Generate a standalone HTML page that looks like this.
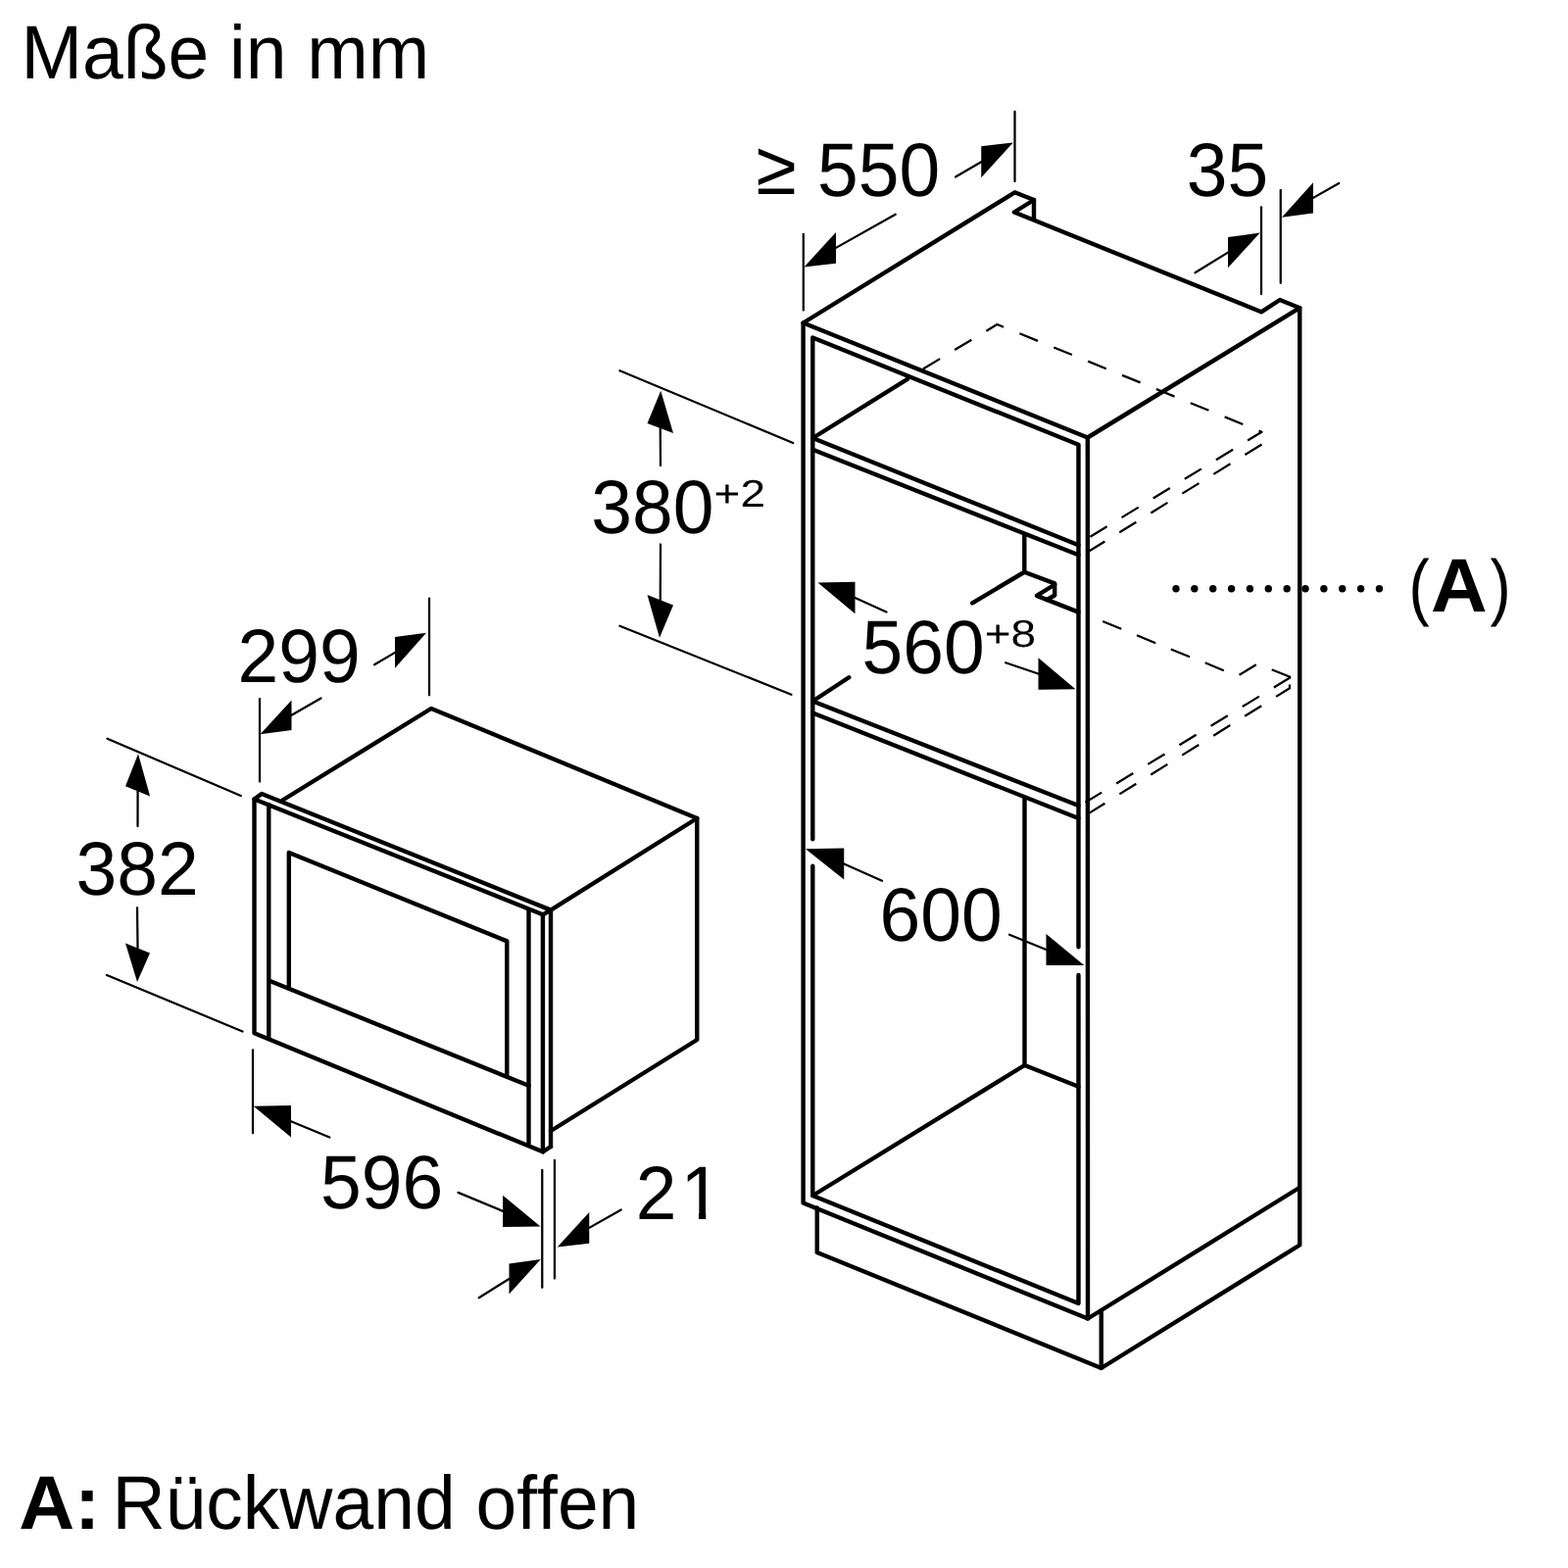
<!DOCTYPE html>
<html lang="de">
<head>
<meta charset="utf-8">
<title>Maße in mm</title>
<style>
html,body{margin:0;padding:0;background:#fefefe;}
body{width:1600px;height:1600px;overflow:hidden;}
svg{display:block;will-change:transform;font-family:"Liberation Sans",Arial,Helvetica,sans-serif;}
.k{fill:none;stroke:#000;stroke-width:4.4;stroke-linecap:round;stroke-linejoin:round;}
.n{fill:none;stroke:#000;stroke-width:2.25;stroke-linecap:round;stroke-linejoin:round;}
.d{fill:none;stroke:#000;stroke-width:2.25;stroke-linecap:butt;stroke-linejoin:round;}
.a{fill:#000;stroke:none;}
text{fill:#000;text-rendering:geometricPrecision;font-kerning:none;font-variant-ligatures:none;}
</style>
</head>
<body>
<svg width="1600" height="1600" viewBox="0 0 1600 1600">
<rect width="1600" height="1600" fill="#fefefe"/>
<defs><clipPath id="c1"><polygon points="640,1180 720.25,1180 720.25,1246 712.95,1246 712.95,1236.5 698,1236.5 698,1250 640,1250"/></clipPath></defs>
<g class="k">
<polyline points="819.6,329.5 1035.5,196.3 1055,204 1055,223.5"/>
<polyline points="1055,204 1034.9,216.5 1287,318.3 1306,306 1326.25,314.2"/>
<polyline points="1109.8,446.5 1326.25,314.2 1326.25,1270.5 1123.75,1396 833.75,1278 833.75,1232.5"/>
<polyline points="1123.75,1396 1123.75,1337.2"/>
<polyline points="819.6,329.5 1109.8,446.5 1110,1345.5 819.6,1227.5 819.6,329.5"/>
<polyline points="1110,1345.5 1325,1212.5"/>
<polyline points="829.3,856.25 829.3,344.5 1100.5,453.75 1100.5,966.25"/>
<polyline points="829.3,883.75 829.3,1220 1100.5,1330 1100.5,995"/>
<polyline points="926,386.8 829.3,447 1100.5,556.2"/>
<polyline points="829.3,458.75 1100.5,566.3"/>
<polyline points="866.25,691.25 829.3,715.5 1100.5,822"/>
<polyline points="829.3,727.5 1100.5,835"/>
<polyline points="1045.3,546.25 1045.3,583.75 992.2,615.3"/>
<polyline points="1045.3,583.75 1076.2,595.4 1076.2,607.5 1068.2,612"/>
<polyline points="1076.2,596.5 1057.9,607.9 1100.5,624.6"/>
<polyline points="1045.5,813.75 1045.5,1087 829.3,1220"/>
<polyline points="1045.5,1087 1100.5,1108.75"/>
<polyline points="288.75,816.25 440,723 711.25,835 711.25,1061 562,1154"/>
<polyline points="562,928.6 711.25,835"/>
<polyline points="553.9,1175.3 259.5,1054.3 259.5,815.5 267,810 562,928.6"/>
<polyline points="259.5,815.5 553.9,933.3 562,928.6"/>
<polyline points="274.25,821 274.25,1058.75"/>
<polyline points="294.8,1008.5 294.8,870 517.3,960.4 517.3,1097"/>
<polyline points="274.25,1000.5 539.5,1107.8"/>
<polyline points="539.5,929 539.5,1167"/>
<polyline points="553.9,933.3 553.9,1175.3 562,1170"/>
<polyline points="562,928.6 562,1170"/>
</g>
<g class="n">
<polyline points="819.8,238.75 819.8,316.5"/>
<polyline points="1035.5,113.75 1035.5,185"/>
<polyline points="853,252.88 913.75,218.75"/>
<polyline points="1001.25,165.25 975,180.5"/>
<polyline points="1287,211.25 1287,300"/>
<polyline points="1306.75,193.75 1306.75,288.75"/>
<polyline points="1340,201.88 1366.25,187"/>
<polyline points="1253,257.62 1219.5,278.25"/>
<polyline points="632.5,378.25 809.25,452"/>
<polyline points="632.5,638.75 807.5,708.75"/>
<polyline points="673.75,437 674,475"/>
<polyline points="673.75,612.25 674,555.5"/>
<polyline points="872.5,610 904.5,624.5"/>
<polyline points="1059.5,687.5 1026.25,676.25"/>
<polyline points="861.25,881.5 900,898.75"/>
<polyline points="1067.5,969 1030,953.75"/>
<polyline points="265,713 265,797.5"/>
<polyline points="438,610.5 438,709.25"/>
<polyline points="297.5,729.75 327.5,712.5"/>
<polyline points="403,665.88 382,678.25"/>
<polyline points="109.5,753.75 245.75,812"/>
<polyline points="109,995 247.5,1052.5"/>
<polyline points="140.55,807.35 140.5,843"/>
<polyline points="140.5,967.5 140,926.25"/>
<polyline points="258,1071.25 258,1156.25"/>
<polyline points="297,1144.25 336.25,1160.5"/>
<polyline points="513.1,1235.85 467.5,1216.9"/>
<polyline points="553.25,1193.75 553.25,1313.75"/>
<polyline points="565.9,1183.75 565.9,1304.5"/>
<polyline points="601.25,1252.88 633.75,1234.5"/>
<polyline points="519.5,1305 488.75,1324.25"/>
</g>
<g class="d">
<polyline points="941.9,376.5 1017.5,331 1287.5,440.75 1111.5,548.3" stroke-dasharray="20.1 17.55" stroke-dashoffset="0"/>
<polyline points="1287.5,453.5 1111.5,562.3" stroke-dasharray="20.1 17.55" stroke-dashoffset="0"/>
<polyline points="1317.05,691 1107.5,818.8" stroke-dasharray="20.1 17.55" stroke-dashoffset="0"/>
<polyline points="1316,698.5 1316,702.25 1111.5,829.6" stroke-dasharray="20.1 17.55" stroke-dashoffset="0"/>
<path d="M1125.2 634L1144.25 641.8 M1160 648.25L1179.2 656.2 M1194.8 662.5L1214 670.3 M1229.75 676.3L1248.8 684.25 M1264.55 688.75L1281.8 678.25 M1297.7 683.2L1317.05 691"/>
</g>
<g class="a">
<polygon points="820.5,272.5 853,237 853,268.75"/>
<polygon points="1033.75,145.5 1001.25,149.25 1001.25,181.25"/>
<polygon points="1308,221.75 1340,186.25 1340,217.5"/>
<polygon points="1285.75,237.5 1253,242 1253,273.25"/>
<polygon points="674.25,398.75 660.5,432 687,442"/>
<polygon points="673,650.75 660.5,607 687,617.5"/>
<polygon points="834.5,594.5 872.5,593.75 872.5,626.25"/>
<polygon points="1097.5,703.25 1059.5,671.25 1059.5,703.75"/>
<polygon points="822,866.25 861.25,865.5 861.25,897.5"/>
<polygon points="1106.25,985 1067.5,953 1067.5,985"/>
<polygon points="265.5,749.25 297.5,714.5 297.5,745"/>
<polygon points="435,645.75 403,650 403,681.75"/>
<polygon points="141,769.2 128,802.2 153.1,812.5"/>
<polygon points="140,1002 128,962.5 153,972.5"/>
<polygon points="258.75,1128.75 297,1128 297,1160.5"/>
<polygon points="551.5,1251.5 513.1,1219.7 513.1,1252"/>
<polygon points="568.75,1272.5 601.25,1237 601.25,1268.75"/>
<polygon points="551.75,1285 519.5,1289.5 519.5,1320.5"/>
<circle cx="1200" cy="600.75" r="3.7"/>
<circle cx="1218.86" cy="600.75" r="3.7"/>
<circle cx="1237.72" cy="600.75" r="3.7"/>
<circle cx="1256.58" cy="600.75" r="3.7"/>
<circle cx="1275.44" cy="600.75" r="3.7"/>
<circle cx="1294.3" cy="600.75" r="3.7"/>
<circle cx="1313.16" cy="600.75" r="3.7"/>
<circle cx="1332.02" cy="600.75" r="3.7"/>
<circle cx="1350.88" cy="600.75" r="3.7"/>
<circle cx="1369.74" cy="600.75" r="3.7"/>
<circle cx="1388.6" cy="600.75" r="3.7"/>
<circle cx="1407.46" cy="600.75" r="3.7"/>
</g>
<g>
<text transform="translate(0 79.8) scale(1 1.03)" font-size="75"><tspan x="21.5">Maße in mm</tspan></text>
<text transform="translate(0 200) scale(1 1.03)" font-size="75" x="771.5 812.67 834" y="-2.43 0 0">≥ 550</text>
<text transform="translate(0 200) scale(1 1.03)" font-size="75"><tspan x="1210.75">35</tspan></text>
<text transform="translate(0 543.75) scale(1 1.03)" font-size="75"><tspan x="603.25">380</tspan><tspan x="728.6" dy="-26.07" font-size="38" textLength="52.42" lengthAdjust="spacingAndGlyphs">+2</tspan></text>
<text transform="translate(0 687) scale(1 1.03)" font-size="75"><tspan x="879.5">560</tspan><tspan x="1004.7" dy="-26.21" font-size="38" textLength="52.42" lengthAdjust="spacingAndGlyphs">+8</tspan></text>
<text transform="translate(0 960) scale(1 1.03)" font-size="75"><tspan x="897.5">600</tspan></text>
<text transform="translate(0 695.5) scale(1 1.03)" font-size="75"><tspan x="242.5">299</tspan></text>
<text transform="translate(0 912.5) scale(1 1.03)" font-size="75"><tspan x="77.5">382</tspan></text>
<text transform="translate(0 1233) scale(1 1.03)" font-size="75"><tspan x="327">596</tspan></text>
<g clip-path="url(#c1)"><text transform="translate(0 1243.75) scale(1 1.03)" font-size="75" x="648.75 694.45">21</text></g>
<text transform="translate(0 623.9) scale(1 1.03)" font-size="75"><tspan x="1437.58" font-size="73.11" textLength="21.18" lengthAdjust="spacingAndGlyphs">(</tspan><tspan x="1460.1" font-weight="bold" textLength="57.67" lengthAdjust="spacingAndGlyphs">A</tspan><tspan x="1520.56" font-size="73.11" textLength="21.18" lengthAdjust="spacingAndGlyphs">)</tspan></text>
<text transform="translate(0 1560) scale(1 1.03)" font-size="75"><tspan x="19.28" font-weight="bold" textLength="83.08" lengthAdjust="spacingAndGlyphs">A:</tspan> <tspan x="114.5">Rückwand offen</tspan></text>
</g>
</svg>
</body>
</html>
